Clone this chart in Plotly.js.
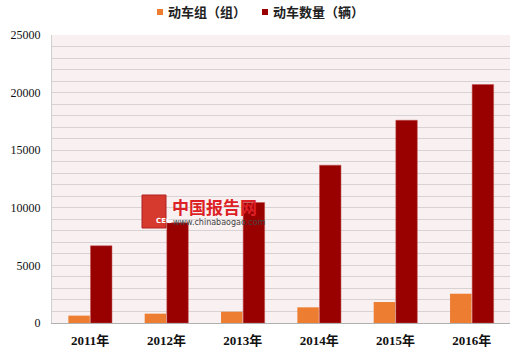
<!DOCTYPE html>
<html><head><meta charset="utf-8">
<script src="https://cdn.plot.ly/plotly-3.0.1.min.js"></script>
<style>body{margin:0;background:#fff}#c{width:520px;height:355px}</style>
</head><body><div id="c"></div>
<script>
var years = ['2011年','2012年','2013年','2014年','2015年','2016年'];
var emuSets = [640, 810, 980, 1360, 1820, 2540];
var emuCars = [6700, 8700, 10460, 13700, 17600, 20700];
var seriesNames = ['动车组（组）','动车数量（辆）'];
var colors = ['#ed7d31', '#990000'];
var F = 'Liberation Serif, Noto Sans CJK SC, serif';
var data = [
  {type:'bar', x:years, y:emuSets, name:seriesNames[0], marker:{color:colors[0]}, showlegend:false},
  {type:'bar', x:years, y:emuCars, name:seriesNames[1], marker:{color:colors[1], line:{color:'#c0504d', width:0.5}}, showlegend:false}
];
var px = function(x){return (x-52)/458;};
var py = function(y){return (323-y)/288;};
var legX = [157, 262];
var shapes = [{type:'rect', xref:'paper', yref:'paper', x0:px(142), x1:px(166), y0:py(228), y1:py(195),
           fillcolor:'#d63a2e', line:{color:'#b02020', width:1}}];
var annotations = [
    {xref:'paper', yref:'paper', x:px(154), y:py(221), text:'CEG', showarrow:false,
     font:{family:'DejaVu Sans', size:7, color:'#ffffff', weight:'bold'}},
    {xref:'paper', yref:'paper', x:px(170), y:py(206), xanchor:'left', text:'中国报告网', showarrow:false,
     font:{family:'Noto Sans CJK SC', size:17, color:'#dd1f26', weight:'bold'}},
    {xref:'paper', yref:'paper', x:px(171), y:py(222), xanchor:'left', text:'www.chinabaogao.com', showarrow:false,
     font:{family:'DejaVu Sans', size:8, color:'#444'}}
];
seriesNames.forEach(function(n, i){
  shapes.push({type:'rect', xref:'paper', yref:'paper', x0:px(legX[i]), x1:px(legX[i]+6), y0:py(15), y1:py(9),
               fillcolor:colors[i], line:{width:0}});
  annotations.push({xref:'paper', yref:'paper', x:px(legX[i]+9), y:py(12), xanchor:'left', yanchor:'middle',
               text:n, showarrow:false, font:{family:'Noto Sans CJK SC, sans-serif', size:13, color:'#222', weight:'bold'}});
});
var layout = {
  width:520, height:355,
  margin:{l:52, r:10, t:35, b:32},
  paper_bgcolor:'#ffffff', plot_bgcolor:'#f8f0f1',
  barmode:'group', bargap:0.42, bargroupgap:0.03,
  showlegend:false,
  xaxis:{type:'category', showgrid:false, showline:true, linecolor:'#b0b0b0', linewidth:1,
         ticks:'', ticklabelstandoff:5, tickfont:{family:F, size:13, color:'#111', weight:'bold'}},
  yaxis:{range:[0,25000], dtick:5000, tickformat:'d', showgrid:true, gridcolor:'#d8d2d2', gridwidth:1,
         showline:true, linecolor:'#d0d0d0', ticks:'', ticklabelstandoff:8,
         tickfont:{family:F, size:12, color:'#111'}, zeroline:false,
         minor:{dtick:1000, showgrid:true, gridcolor:'#d8d2d2', gridwidth:1}},
  shapes:shapes,
  annotations:annotations
};
Plotly.newPlot('c', data, layout, {displayModeBar:false, staticPlot:true});
</script></body></html>
